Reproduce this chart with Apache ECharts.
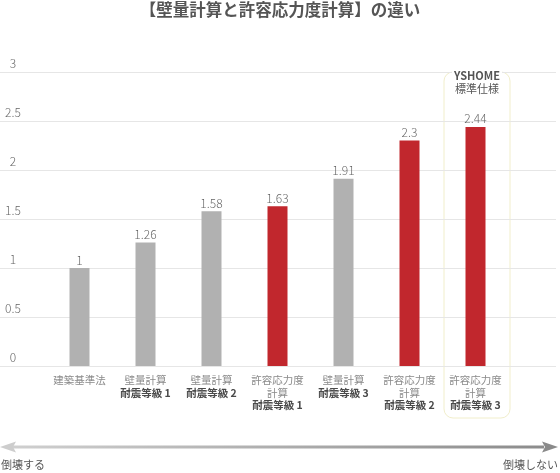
<!DOCTYPE html>
<html>
<head>
<meta charset="utf-8">
<script src="https://cdn.jsdelivr.net/npm/echarts@6/dist/echarts.min.js"></script>
<style>
html,body{margin:0;padding:0;background:#fff;}
#c{width:560px;height:473px;}
</style>
</head>
<body>
<div id="c"></div>
<script>
// ---- data ----
const titleText = '【壁量計算と許容応力度計算】の違い';
const methods = ['建築基準法', '壁量計算', '壁量計算', '許容応力度\n計算', '壁量計算', '許容応力度\n計算', '許容応力度\n計算'];
const grades = ['', '耐震等級 1', '耐震等級 2', '耐震等級 1', '耐震等級 3', '耐震等級 2', '耐震等級 3'];
const values = [1, 1.26, 1.58, 1.63, 1.91, 2.3, 2.44];
const yTicks = [0, 0.5, 1, 1.5, 2, 2.5, 3];
const highlightLabel = ['YSHOME', '標準仕様'];
const arrowLeftText = '倒壊する';
const arrowRightText = '倒壊しない';

const FONT = '"Noto Sans CJK JP", "Noto Sans", sans-serif';
const GRAY = '#b1b1b1';
const RED = '#c1272d';

const cats = methods.map((m, i) => m + '|' + grades[i]);
const seriesData = values.map((v, i) => ({
  value: v,
  itemStyle: { color: methods[i].indexOf('許容応力度') >= 0 ? RED : GRAY }
}));

const chart = echarts.init(document.getElementById('c'), null, { renderer: 'canvas' });

const option = {
  animation: false,
  backgroundColor: '#fff',
  title: {
    text: titleText,
    left: 'center',
    top: 0,
    padding: [0, 0, 0, 0],
    textStyle: { fontFamily: FONT, fontSize: 16.5, lineHeight: 20, fontWeight: 'bold', color: '#555' }
  },
  grid: [
    { left: 0, right: 4, top: 72, bottom: 107 },
    { left: 46.5, width: 462, top: 72, bottom: 107 }
  ],
  xAxis: [
    { type: 'category', gridIndex: 0, data: cats, show: false },
    {
      type: 'category', gridIndex: 1, data: cats,
      axisLine: { show: false }, axisTick: { show: false },
      axisLabel: {
        margin: 8,
        interval: 0,
        lineHeight: 12.5,
        formatter: function (v) {
          const p = v.split('|');
          const lines = p[0].split('\n').map(s => '{a|' + s + '}');
          if (p[1]) lines.push('{b|' + p[1] + '}');
          return lines.join('\n');
        },
        rich: {
          a: { fontFamily: FONT, fontSize: 10.5, color: '#8a8a8a', lineHeight: 12.5 },
          b: { fontFamily: FONT, fontSize: 10.5, color: '#4a4a4a', lineHeight: 12.5, fontWeight: 'bold' }
        }
      }
    }
  ],
  yAxis: [
    {
      type: 'value', gridIndex: 0, min: yTicks[0], max: yTicks[yTicks.length - 1], interval: 0.5,
      axisLine: { show: false }, axisTick: { show: false },
      splitLine: { lineStyle: { color: '#e6e6e6', width: 1 } },
      axisLabel: {
        inside: true, margin: 13, align: 'center', verticalAlign: 'bottom',
        padding: [0, 0, 3, 0],
        fontFamily: FONT, fontSize: 12, color: '#666', fontWeight: 300,
        formatter: function (v) { return yTicks.indexOf(v) >= 0 ? String(v) : ''; }
      }
    },
    {
      type: 'value', gridIndex: 1, min: yTicks[0], max: yTicks[yTicks.length - 1], interval: 0.5,
      show: false
    }
  ],
  graphic: [
    {
      type: 'rect', z: 0,
      shape: { x: 444, y: 72, width: 66, height: 346, r: 9 },
      style: { fill: 'rgba(0,0,0,0)', stroke: '#f1eecb', lineWidth: 1 }
    },
    {
      type: 'text', z: 5, x: 477, y: 76,
      style: {
        text: highlightLabel[0], fontFamily: FONT, fontSize: 11, fontWeight: 'bold', fill: '#555',
        align: 'center', verticalAlign: 'middle', backgroundColor: '#fff', padding: [0, 2]
      }
    },
    {
      type: 'text', z: 5, x: 477, y: 89,
      style: {
        text: highlightLabel[1], fontFamily: FONT, fontSize: 11, fill: '#555',
        align: 'center', verticalAlign: 'middle'
      }
    },
    {
      type: 'rect', z: 1,
      shape: { x: 12, y: 445.5, width: 532, height: 3 },
      style: {
        fill: new echarts.graphic.LinearGradient(0, 0, 1, 0, [
          { offset: 0, color: '#cfcfcf' }, { offset: 1, color: '#8c8c8c' }
        ])
      }
    },
    {
      type: 'polygon', z: 2,
      shape: { points: [[0, 447], [16, 441.5], [13, 447], [16, 452.5]] },
      style: { fill: '#cdcdcd' }
    },
    {
      type: 'polygon', z: 2,
      shape: { points: [[558, 447], [542, 441.5], [545, 447], [542, 452.5]] },
      style: { fill: '#8a8a8a' }
    },
    {
      type: 'text', x: 1, y: 465,
      style: { text: arrowLeftText, fontFamily: FONT, fontSize: 11, fill: '#555', align: 'left', verticalAlign: 'middle' }
    },
    {
      type: 'text', x: 558, y: 465,
      style: { text: arrowRightText, fontFamily: FONT, fontSize: 11, fill: '#555', align: 'right', verticalAlign: 'middle' }
    }
  ],
  series: [
    {
      type: 'bar', xAxisIndex: 1, yAxisIndex: 1,
      data: seriesData,
      barWidth: 20,
      label: {
        show: true, position: 'top', distance: 2,
        fontFamily: FONT, fontSize: 12, color: '#666', fontWeight: 300
      }
    }
  ]
};
chart.setOption(option);
</script>
</body>
</html>
